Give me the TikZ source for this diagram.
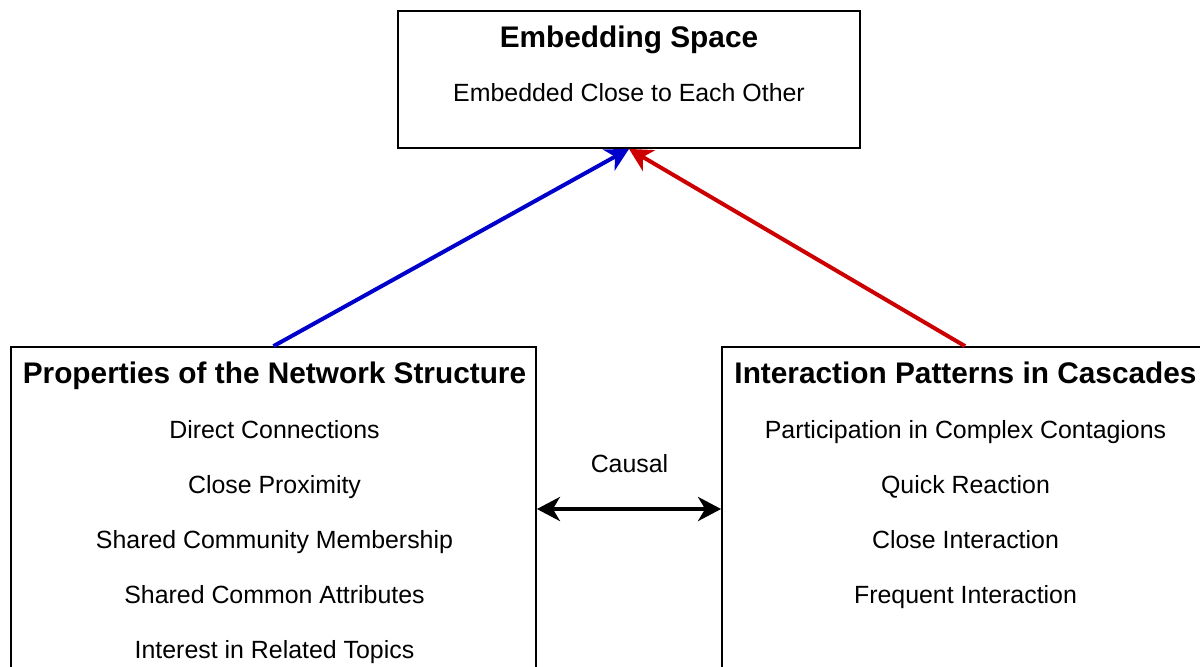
\documentclass[tikz,border=0pt]{standalone}
\usepackage{fontspec}
\setmainfont{Liberation Sans}
\usetikzlibrary{arrows.meta}
\definecolor{blueA}{HTML}{0000CC}
\definecolor{redA}{HTML}{CC0000}
\begin{document}
\begin{tikzpicture}[x=0.5pt,y=-0.5pt,
  >={Stealth[length=11.5pt,width=12pt,inset=3.5pt]},
  box/.style={draw=black,line width=0.9pt,fill=white,inner sep=0pt},
  ttl/.style={font=\fontsize{14.9pt}{18pt}\selectfont\bfseries,inner sep=0pt,anchor=base},
  txt/.style={font=\fontsize{12.45pt}{15pt}\selectfont,inner sep=0pt,anchor=base},
  conn/.style={line width=2pt}]
\clip (0,0) rectangle (1200,666);
\fill[white] (0,0) rectangle (1200,666);
% boxes
\node[box,minimum width=231pt,minimum height=68.5pt] (top) at (629,79.5) {};
\node[box,minimum width=262.5pt,minimum height=176.5pt] (left) at (273.5,523.5) {};
\node[box,minimum width=243pt,minimum height=176.5pt] (right) at (965,523.5) {};
% top texts
\node[ttl] (t0) at (629,47) {Embedding Space};
\node[txt] (t1) at (629,101) {Embedded Close to Each Other};
% left texts
\node[ttl] (l0) at (274.5,383) {Properties of the Network Structure};
\node[txt] (l1) at (274.5,438) {Direct Connections};
\node[txt] (l2) at (274.5,493) {Close Proximity};
\node[txt] (l3) at (274.5,548) {Shared Community Membership};
\node[txt] (l4) at (274.5,603) {Shared Common Attributes};
\node[txt] (l5) at (274.5,658) {Interest in Related Topics};
% right texts
\node[ttl] (r0) at (965.5,383) {Interaction Patterns in Cascades};
\node[txt] (r1) at (965.5,438) {Participation in Complex Contagions};
\node[txt] (r2) at (965.5,493) {Quick Reaction};
\node[txt] (r3) at (965.5,548) {Close Interaction};
\node[txt] (r4) at (965.5,603) {Frequent Interaction};
% causal
\node[txt] (causal) at (629.5,472) {Causal};
\coordinate (cy) at (629,509);
% connectors
\draw[conn,blueA,->] (left.north) -- (top.south);
\draw[conn,redA,->] (right.north) -- (top.south);
\draw[conn,black,<->] (cy -| left.east) -- (cy -| right.west);
\end{tikzpicture}
\end{document}
